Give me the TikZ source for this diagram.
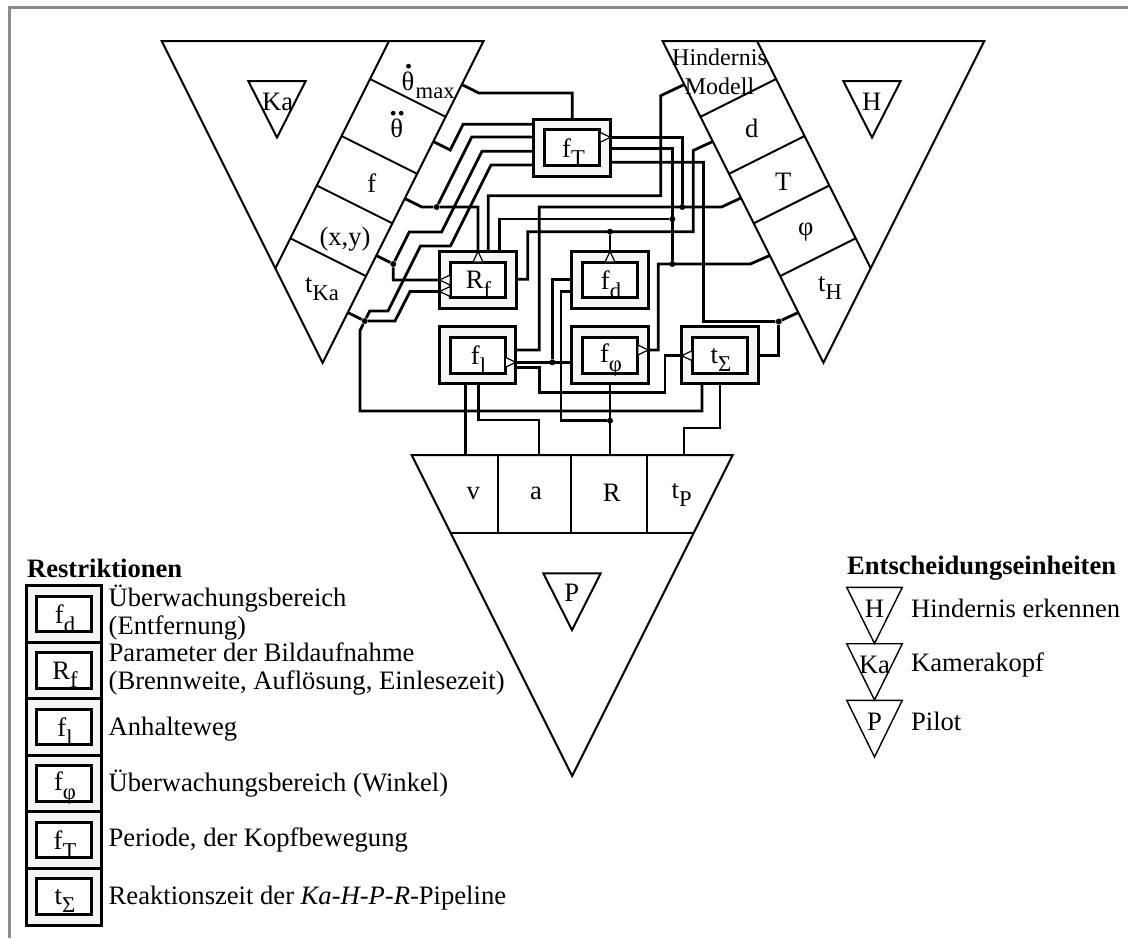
\documentclass[tikz,border=0pt]{standalone}
\usepackage{fontspec}
\setmainfont{Liberation Serif}
\usetikzlibrary{calc}
% lowered subscript in text size
\newcommand\lsub[1]{\raisebox{-0.32em}{\fontsize{11.3}{12}\selectfont #1}}

\tikzset{
  txt/.style={font=\fontsize{13.3}{15}\selectfont, inner sep=0pt},
  subtxt/.style={font=\fontsize{11.3}{12}\selectfont, inner sep=0pt, anchor=base west},
  smalltxt/.style={font=\fontsize{12}{14.5}\selectfont, inner sep=0pt, align=center},
  headtxt/.style={font=\fontsize{13.3}{15}\selectfont\bfseries, inner sep=0pt, anchor=west},
  legtxt/.style={font=\fontsize{13.3}{14.2}\selectfont, inner sep=0pt, anchor=west, align=left},
  unitline/.style={line width=1pt, line join=miter},
  thinunit/.style={line width=0.7pt, line join=miter},
  wire/.style={line width=1.4pt, line join=miter},
  obox/.style={draw, line width=1.5pt, fill=black!4, minimum width=38.25pt, minimum height=28.5pt, inner sep=0pt, outer sep=0pt},
  lbox/.style={draw, line width=1.5pt, fill=black!4, minimum width=37.5pt, minimum height=28.28pt, inner sep=0pt, outer sep=0pt},
  ibox/.style={draw, line width=1.5pt, fill=white, minimum width=27.5pt, minimum height=17.75pt, inner sep=0pt},
  port/.style={draw, line width=0.6pt, fill=white, line join=miter},
  jdot/.style={circle, fill, inner sep=0pt, minimum size=3pt},
  accdot/.style={circle, fill, inner sep=0pt, minimum size=2.4pt},
  frame/.style={draw=black!45, line width=1.3pt},
  portE/.pic={\path[port] (0,0) -- (-10.5,-5) -- (-10.5,5) -- cycle;},
  portW/.pic={\path[port] (0,0) -- (10.5,-5) -- (10.5,5) -- cycle;},
  portN/.pic={\path[port] (0,0) -- (-5,10.5) -- (5,10.5) -- cycle;},
}

\begin{document}
\begin{tikzpicture}[x=0.5pt,y=-0.5pt]
\useasboundingbox (0,0) rectangle (1128,938);
\draw[frame] (9.5,938) -- (9.5,7.5) -- (1128,7.5);

% ---------------- decision unit Ka ----------------
\draw[unitline] (161.7,41) -- (483.5,41) -- (322.6,362.8) -- cycle;
\draw[unitline] (389,41) -- (275.35,268.3);
\draw[unitline] (370,79) -- (445.6,116.8) (341.5,136) -- (417.1,173.8)
  (316.75,185.5) -- (392.35,223.3) (290.35,238.3) -- (365.95,276.1);
\draw[unitline] (248.3,81) -- (305.7,81) -- (277,137.5) -- cycle;
\node[txt] (ka-sym) at (277.7,101.7) {Ka};
% theta-dot max
\node[txt] (ka-th1) at (408,81) {θ};
\node[subtxt] (ka-max) at ($(ka-th1.base east)+(0.5,8.5)$) {max};
\node[accdot] (ka-d1) at ($(ka-th1.north)+(0.5,-5)$) {};
% theta-double-dot
\node[txt] (ka-th2) at (396.7,128) {θ};
\node[accdot] (ka-d2a) at ($(ka-th2.north)+(-3.5,-5)$) {};
\node[accdot] (ka-d2b) at ($(ka-th2.north)+(4.5,-5)$) {};
\node[txt] (ka-c3) at (371.7,183) {f};
\node[txt] (ka-c4) at (345,239) {(x,y)};
\node[txt] (ka-c5) at (322,289) {t\lsub{Ka}};

% ---------------- decision unit H ----------------
\draw[unitline] (984.3,41) -- (662.5,41) -- (823.4,362.8) -- cycle;
\draw[unitline] (757,41) -- (870.65,268.3);
\draw[unitline] (776,79) -- (700.4,116.8) (804.5,136) -- (728.9,173.8)
  (829.25,185.5) -- (753.65,223.3) (855.65,238.3) -- (780.05,276.1);
\draw[unitline] (843.3,81) -- (900.7,81) -- (872,137.5) -- cycle;
\node[txt] (h-sym) at (871.7,101.7) {H};
\node[smalltxt] (h-c1) at (719.5,71.5) {Hindernis\\Modell};
\node[txt] (h-c2) at (751.7,128) {d};
\node[txt] (h-c3) at (783.3,181.7) {T};
\node[txt] (h-c4) at (805.7,231.7) {φ};
\node[txt] (h-c5) at (830,288) {t\lsub{H}};

% ---------------- decision unit P ----------------
\draw[unitline] (411.7,455) -- (732.7,455) -- (572.2,776) -- cycle;
\draw[unitline] (450.85,533.3) -- (693.55,533.3);
\draw[unitline] (497.7,455) -- (497.7,533.3) (571,455) -- (571,533.3) (646.7,455) -- (646.7,533.3);
\draw[unitline] (543.3,573.3) -- (600.7,573.3) -- (572,630) -- cycle;
\node[txt] (p-sym) at (571.7,593) {P};
\node[txt] (p-c1) at (473.3,493.3) {v};
\node[txt] (p-c2) at (536,493) {a};
\node[txt] (p-c3) at (611.7,493) {R};
\node[txt] (p-c4) at (681.7,495) {t\lsub{P}};

% ---------------- restriction boxes ----------------
\node[obox] (fT) at (572.2,147.5) {};
\node[ibox] (fT-in) at (fT) {};
\node[txt] (fT-lb) at (573.5,152) {f\lsub{T}};
\node[obox] (Rf) at (477.9,280) {};
\node[ibox] (Rf-in) at (Rf) {};
\node[txt] (Rf-lb) at (478.5,284.5) {R\lsub{f}};
\node[obox] (fd) at (610,280) {};
\node[ibox] (fd-in) at (fd) {};
\node[txt] (fd-lb) at (611,284.5) {f\lsub{d}};
\node[obox] (fl) at (477.5,355.3) {};
\node[ibox] (fl-in) at (fl) {};
\node[txt] (fl-lb) at (478.5,359.8) {f\lsub{l}};
\node[obox] (fphi) at (610,355.3) {};
\node[ibox] (fphi-in) at (fphi) {};
\node[txt] (fphi-lb) at (611,359.8) {f\lsub{φ}};
\node[obox] (tS) at (720,355.3) {};
\node[ibox] (tS-in) at (tS) {};
\node[txt] (tS-lb) at (721,359.8) {t\lsub{Σ}};

% ---------------- ports ----------------
\coordinate (fT-n) at (572.2,119);
\coordinate (fT-w1) at (534,124.3);
\coordinate (fT-w2) at (534,137);
\coordinate (fT-w3) at (534,151.2);
\coordinate (fT-w4) at (534,165);
\coordinate (fT-e1) at (610.4,137.3);
\coordinate (fT-e2) at (610.4,148.3);
\coordinate (fT-e3) at (610.4,162.3);
\coordinate (Rf-n1) at (478,251.5);
\coordinate (Rf-n2) at (488.3,251.5);
\coordinate (Rf-n3) at (499.3,251.5);
\coordinate (Rf-w1) at (439.65,280);
\coordinate (Rf-w2) at (439.65,291.5);
\coordinate (Rf-e) at (516.15,279.3);
\coordinate (fd-n) at (610,251.5);
\coordinate (fd-w1) at (571.75,279.3);
\coordinate (fd-w2) at (571.75,291.7);
\coordinate (fl-e1) at (515.75,350);
\coordinate (fl-e2) at (515.75,362.3);
\coordinate (fl-e3) at (515.75,367.3);
\coordinate (fl-s1) at (465.7,383.8);
\coordinate (fl-s2) at (478.3,383.8);
\coordinate (fphi-w) at (571.75,362.3);
\coordinate (fphi-e) at (648.25,350);
\coordinate (fphi-s) at (610,383.8);
\coordinate (tS-w) at (681.75,355.7);
\coordinate (tS-e) at (758.25,355.7);
\coordinate (tS-s1) at (702,383.8);
\coordinate (tS-s2) at (720,383.8);
\coordinate (P-v) at (465.7,455);
\coordinate (P-a) at (539,455);
\coordinate (P-R) at (610,455);
\coordinate (P-t) at (684,455);

% cell contacts on the unit edges
\coordinate (ka-e1) at (461.75,84.5);
\coordinate (ka-s1) at (478.75,93);
\coordinate (ka-e2) at (433.25,141.5);
\coordinate (ka-s2) at (450.25,150);
\coordinate (ka-e3) at (404.75,198.5);
\coordinate (ka-s3) at (421.75,207);
\coordinate (ka-e4) at (376.25,255.5);
\coordinate (ka-e5) at (347.75,312.5);
\coordinate (h-e1) at (684.25,84.5);
\coordinate (h-s1) at (660.7,95.7);
\coordinate (h-e2) at (712.75,141.5);
\coordinate (h-s2) at (693.25,150.5);
\coordinate (h-e3) at (741,198);
\coordinate (h-s3) at (721.5,207);
\coordinate (h-e4) at (769.75,255.5);
\coordinate (h-s4) at (750.25,264);
\coordinate (h-e5) at (798.25,312.5);

% junctions
\node[jdot] (j-f) at (436.7,207) {};
\node[jdot] (j-xy) at (393.25,264) {};
\node[jdot] (j-tka) at (364.75,321) {};
\node[jdot] (j-d) at (610,231.7) {};
\node[jdot] (j-T) at (682.3,207) {};
\node[jdot] (j-phi) at (672.3,264) {};
\node[jdot] (j-phi2) at (672.3,219) {};
\node[jdot] (j-tH) at (778.75,321.5) {};
\node[jdot] (j-fl) at (552.3,362.3) {};
\node[jdot] (j-R) at (610,420.7) {};

% ---------------- wiring ----------------
% Ka cells
\draw[wire] (ka-e1) -- (ka-s1) -| (fT-n);
\draw[wire] (ka-e2) -- (ka-s2) -- (463.1,124.3) -- (fT-w1);
\draw[wire] (ka-e3) -- (ka-s3) -- (j-f) -| (Rf-n1);
\draw[wire] (j-f) -- (471.7,137) -- (fT-w2);
\draw[wire] (ka-e4) -- (j-xy) |- (Rf-w1);
\draw[wire] (j-xy) -- (409.25,232) -- (441.6,232) -- (482,151.2) -- (fT-w3);
\draw[wire] (ka-e5) -- (j-tka);
\draw[wire] (j-tka) -- (369.75,311) -- (388,311) -- (420.5,246) -- (450.5,246) -- (491,165) -- (fT-w4);
\draw[wire] (j-tka) -- (395,321) -- (410,291.5) -- (Rf-w2);
\draw[wire] (j-tka) -- (360,330.5) -- (360,411) -| (tS-s1);
% H cells
\draw[wire] (h-e1) -- (h-s1) -- (660.7,195.7) -| (Rf-n2);
\draw[wire] (h-e2) -- (h-s2) -- (693.25,231.7) -- (527.7,231.7) |- (Rf-e);
\draw[wire] (j-d) -- (fd-n);
\draw[wire] (h-e3) -- (h-s3) -- (539.3,207) |- (fl-e1);
\draw[wire] (fT-e1) -| (j-T);
\draw[wire] (h-e4) -- (h-s4) -- (658.3,264) |- (fphi-e);
\draw[wire] (fT-e2) -| (j-phi);
\draw[wire] (Rf-n3) |- (j-phi2);
\draw[wire] (h-e5) -- (j-tH) -- (703.5,321.5) |- (fT-e3);
\draw[wire] (j-tH) |- (tS-e);
% between restrictions
\draw[wire] (fl-e2) -- (fphi-w);
\draw[wire] (j-fl) |- (fd-w1);
\draw[wire] (fl-e3) -- (539.3,367.3) -- (539.3,392.7) -- (665,392.7) |- (tS-w);
\draw[wire] (fphi-s) -- (P-R);
\draw[wire] (j-R) -- (561,420.7) |- (fd-w2);
% P cells
\draw[wire] (fl-s1) -- (P-v);
\draw[wire] (fl-s2) |- (539,420) -- (P-a);
\draw[wire] (tS-s2) |- (684,428) -- (P-t);

% port markers
\pic at (fT-e1) {portE};
\pic at (Rf-n1) {portN};
\pic at (Rf-w1) {portW};
\pic at (Rf-w2) {portW};
\pic at (fd-n) {portN};
\pic at (fl-e2) {portE};
\pic at (fphi-e) {portE};
\pic at (tS-w) {portW};

% ---------------- legend: restrictions ----------------
\node[headtxt] (leg-r) at (26.7,568) {Restriktionen};
\node[lbox] (lg1) at (64.2,614) {};
\node[ibox] (lg1-in) at (lg1) {};
\node[txt] (lg1-lb) at (65,618.5) {f\lsub{d}};
\node[lbox] (lg2) at (64.2,670.5) {};
\node[ibox] (lg2-in) at (lg2) {};
\node[txt] (lg2-lb) at (65,675) {R\lsub{f}};
\node[lbox] (lg3) at (64.2,727.1) {};
\node[ibox] (lg3-in) at (lg3) {};
\node[txt] (lg3-lb) at (65,731.6) {f\lsub{l}};
\node[lbox] (lg4) at (64.2,783.6) {};
\node[ibox] (lg4-in) at (lg4) {};
\node[txt] (lg4-lb) at (65,788.1) {f\lsub{φ}};
\node[lbox] (lg5) at (64.2,840.2) {};
\node[ibox] (lg5-in) at (lg5) {};
\node[txt] (lg5-lb) at (65,844.7) {f\lsub{T}};
\node[lbox] (lg6) at (64.2,896.7) {};
\node[ibox] (lg6-in) at (lg6) {};
\node[txt] (lg6-lb) at (65,901.2) {t\lsub{Σ}};
\node[legtxt] (lt1) at (108.3,612.3) {Überwachungsbereich\\(Entfernung)};
\node[legtxt] (lt2) at (108.3,668.8) {Parameter der Bildaufnahme\\(Brennweite, Auflösung, Einlesezeit)};
\node[legtxt] (lt3) at (108.3,729.3) {Anhalteweg};
\node[legtxt] (lt4) at (108.3,783.3) {Überwachungsbereich (Winkel)};
\node[legtxt] (lt5) at (108.3,840) {Periode, der Kopfbewegung};
\node[legtxt] (lt6) at (108.3,898.3) {Reaktionszeit der \textit{Ka-H-P-R}-Pipeline};

% ---------------- legend: decision units ----------------
\node[headtxt] (leg-e) at (846.7,568) {Entscheidungseinheiten};
\draw[thinunit] (846.7,587.3) -- (902.3,587.3) -- (874.5,643.5) -- cycle;
\draw[thinunit] (846.7,643.7) -- (902.3,643.7) -- (874.5,700) -- cycle;
\draw[thinunit] (846.7,700.3) -- (902.3,700.3) -- (874.5,757) -- cycle;
\node[txt] (le1) at (874.5,608.3) {H};
\node[txt] (le2) at (874.5,665) {Ka};
\node[txt] (le3) at (874.5,721.7) {P};
\node[legtxt] (le1-t) at (910.7,608.3) {Hindernis erkennen};
\node[legtxt] (le2-t) at (910.7,665) {Kamerakopf};
\node[legtxt] (le3-t) at (910.7,721.7) {Pilot};
\end{tikzpicture}
\end{document}
